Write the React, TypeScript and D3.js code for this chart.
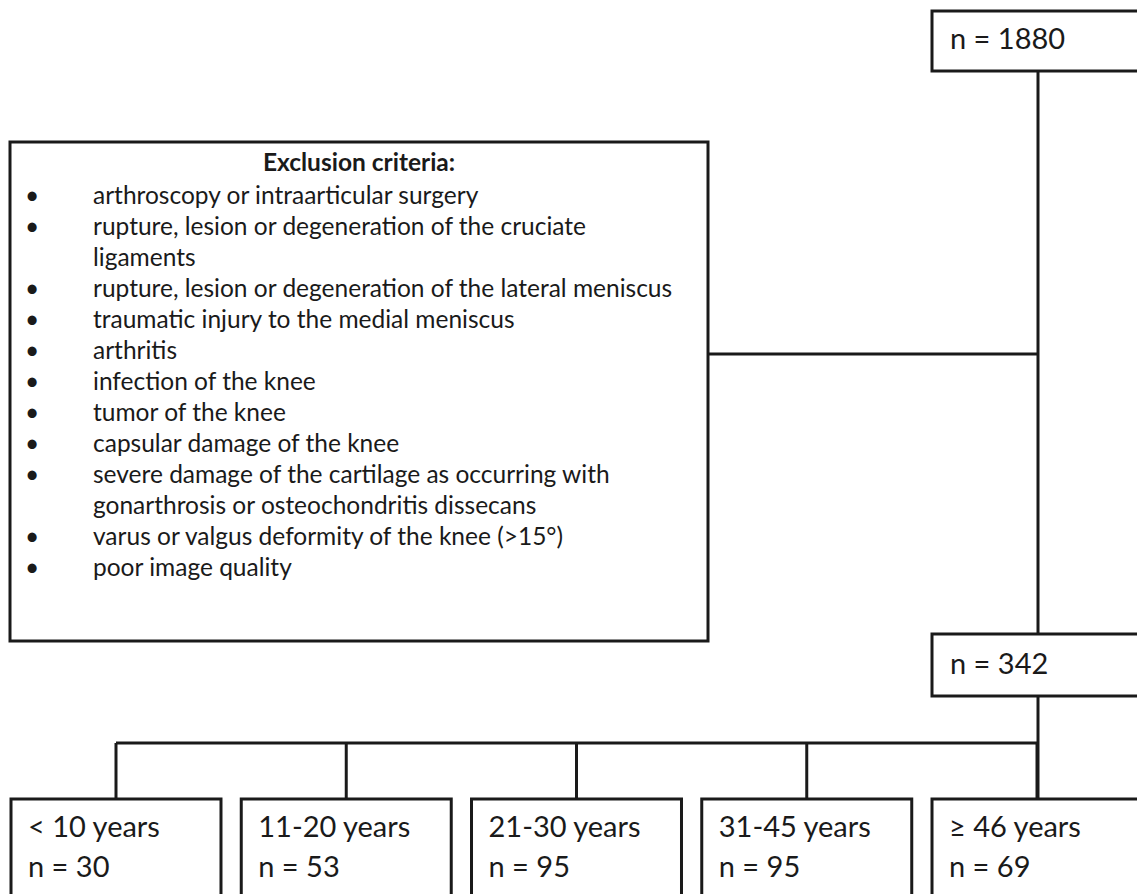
import React from 'react';
import * as d3 from 'd3';

// flow counts
const totalCount = 1880;
const includedCount = 342;

const exclusionTitle = 'Exclusion criteria:';
// [text, starts a new bullet]
const exclusionLines: [string, boolean][] = [
  ['arthroscopy or intraarticular surgery', true],
  ['rupture, lesion or degeneration of the cruciate', true],
  ['ligaments', false],
  ['rupture, lesion or degeneration of the lateral meniscus', true],
  ['traumatic injury to the medial meniscus', true],
  ['arthritis', true],
  ['infection of the knee', true],
  ['tumor of the knee', true],
  ['capsular damage of the knee', true],
  ['severe damage of the cartilage as occurring with', true],
  ['gonarthrosis or osteochondritis dissecans', false],
  ['varus or valgus deformity of the knee (>15°)', true],
  ['poor image quality', true],
];

const ageGroups = ['< 10 years', '11-20 years', '21-30 years', '31-45 years', '≥ 46 years'];
const ageCounts = [30, 53, 95, 95, 69];

const W = 1137;
const H = 894;
const INK = '#1a1a1a';
const FONT = 'Lato, "Open Sans", sans-serif';

const App = () => {
  const trunkX = 1038;

  const x = d3.scaleBand<string>()
    .domain(ageGroups)
    .range([11, 1142])
    .paddingInner(0.088)
    .paddingOuter(0);

  const listY = d3.scaleLinear()
    .domain([0, exclusionLines.length - 1])
    .range([204, 576]);

  const top = { x: 932, y: 11, h: 60 };
  const mid = { x: 932, y: 634, h: 62 };
  const excl = { x0: 10, x1: 708, y0: 142, y1: 641 };
  const connectorY = 354;
  const branchY = 743;
  const ageTop = 799;

  const line = { stroke: INK, strokeWidth: 3, fill: 'none' };
  const listSize = 24.5;

  return (
    <svg width={W} height={H} style={{ position: 'absolute', left: 0, top: 0, background: '#fff' }}
      fontFamily={FONT} fill={INK}>
      {/* trunk */}
      <line x1={trunkX} x2={trunkX} y1={top.y + top.h} y2={mid.y} {...line} />
      <line x1={excl.x1} x2={trunkX} y1={connectorY} y2={connectorY} {...line} />

      {/* n = 1880 */}
      <rect x={top.x} y={top.y} width={300} height={top.h} {...line} fill="#fff" />
      <text x={top.x + 18} y={49} fontSize={29}>n = {totalCount}</text>

      {/* exclusion box */}
      <rect x={excl.x0} y={excl.y0} width={excl.x1 - excl.x0} height={excl.y1 - excl.y0} {...line} fill="#fff" />
      <text x={(excl.x0 + excl.x1) / 2} y={171} fontSize={listSize} fontWeight="bold" textAnchor="middle">
        {exclusionTitle}
      </text>
      {exclusionLines.map(([t, bullet], i) => (
        <g key={i}>
          {bullet && <text x={32} y={listY(i)} fontSize={listSize} textAnchor="middle">•</text>}
          <text x={93} y={listY(i)} fontSize={listSize}>{t}</text>
        </g>
      ))}

      {/* n = 342 */}
      <rect x={mid.x} y={mid.y} width={300} height={mid.h} {...line} fill="#fff" />
      <text x={mid.x + 18} y={674} fontSize={29}>n = {includedCount}</text>

      {/* branches */}
      <line x1={trunkX} x2={trunkX} y1={mid.y + mid.h} y2={ageTop} {...line} />
      <line x1={x(ageGroups[0])! + x.bandwidth() / 2} x2={trunkX} y1={branchY} y2={branchY} {...line} />
      {ageGroups.map((g, i) => {
        const bx = x(g)!;
        const cx = bx + x.bandwidth() / 2;
        return (
          <g key={g}>
            <line x1={cx} x2={cx} y1={branchY} y2={ageTop} {...line} />
            <rect x={bx} y={ageTop} width={i === ageGroups.length - 1 ? 300 : x.bandwidth()} height={200}
              {...line} fill="#fff" />
            <text x={bx + 17} y={837} fontSize={29}>{g}</text>
            <text x={bx + 17} y={877} fontSize={29}>n = {ageCounts[i]}</text>
          </g>
        );
      })}
    </svg>
  );
};

export default App;
